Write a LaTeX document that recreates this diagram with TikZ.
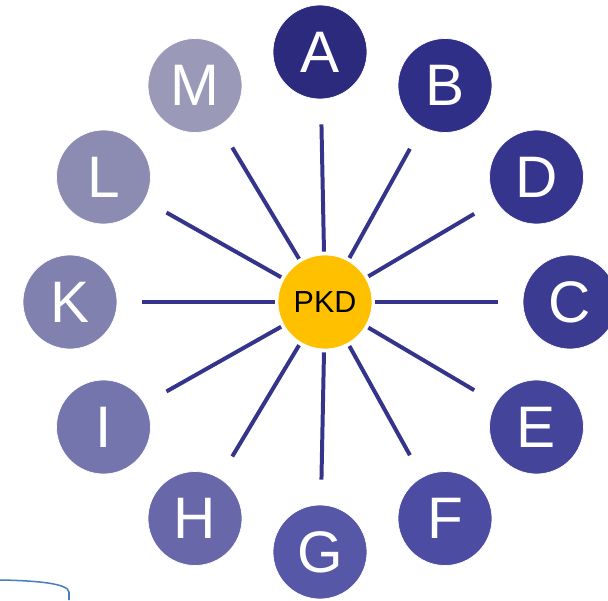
\documentclass[tikz,border=0pt]{standalone}
\usepackage{fontspec}
\setmainfont{Liberation Sans}
\definecolor{cA}{HTML}{2B2A7C}
\definecolor{cB}{HTML}{302F87}
\definecolor{cD}{HTML}{35358E}
\definecolor{cC}{HTML}{3B3B92}
\definecolor{cE}{HTML}{44449A}
\definecolor{cF}{HTML}{4C4CA2}
\definecolor{cG}{HTML}{5757A8}
\definecolor{cH}{HTML}{6767AA}
\definecolor{cI}{HTML}{7575AD}
\definecolor{cK}{HTML}{8181B0}
\definecolor{cL}{HTML}{8C8CB2}
\definecolor{cM}{HTML}{9A9AB8}
\definecolor{spoke}{HTML}{34348A}
\definecolor{hub}{HTML}{FFC000}
\definecolor{frame}{HTML}{4A7EBB}
\begin{document}
\begin{tikzpicture}[
    leaf/.style={circle, minimum size=2.82cm, inner sep=0pt, draw=white,
      line width=0.6pt, text=white, font=\fontsize{50}{50}\selectfont},
    center/.style={circle, minimum size=2.82cm, inner sep=0pt, fill=hub,
      draw=white, line width=0.6pt, font=\fontsize{26}{26}\selectfont}]
      \useasboundingbox (-9.6,-8.94) rectangle (8.64,9.06);
      \node[center] (pkd) at (0.15,0) {PKD};
      \draw
        (90:7.5) node[leaf, fill=cA] (a){A}
        (60:7.5) node[leaf, fill=cB] (b){B}
        (30:7.5) node[leaf, fill=cD] (d){D}
        (0:7.5) node[leaf, fill=cC] (c){C}
        (-30:7.5) node[leaf, fill=cE] (e){E}
        (-60:7.5) node[leaf, fill=cF] (f){F}
        (-90:7.5) node[leaf, fill=cG] (g){G}
        (-120:7.5) node[leaf, fill=cH] (h){H}
        (-150:7.5) node[leaf, fill=cI] (i){I}
        (180:7.5) node[leaf, fill=cK] (k){K}
        (150:7.5) node[leaf, fill=cL] (l){L}
        (120:7.5) node[leaf, fill=cM] (m){M};
      \begin{scope}[-, draw=spoke, line width=3.4pt, shorten <=0.09cm, shorten >=0.75cm]
        \draw (pkd) to (a);
        \draw (pkd) to (b);
        \draw (pkd) to (d);
        \draw (pkd) to (c);
        \draw (pkd) to (e);
        \draw (pkd) to (f);
        \draw (pkd) to (g);
        \draw (pkd) to (h);
        \draw (pkd) to (i);
        \draw (pkd) to (k);
        \draw (pkd) to (l);
        \draw (pkd) to (m);
      \end{scope}
      \draw[frame, line width=1.3pt]
        (-9.6,-8.34) .. controls (-8.45,-8.36) and (-7.55,-8.45) .. (-7.53,-8.7) -- (-7.53,-8.94);
    \end{tikzpicture}
\end{document}
